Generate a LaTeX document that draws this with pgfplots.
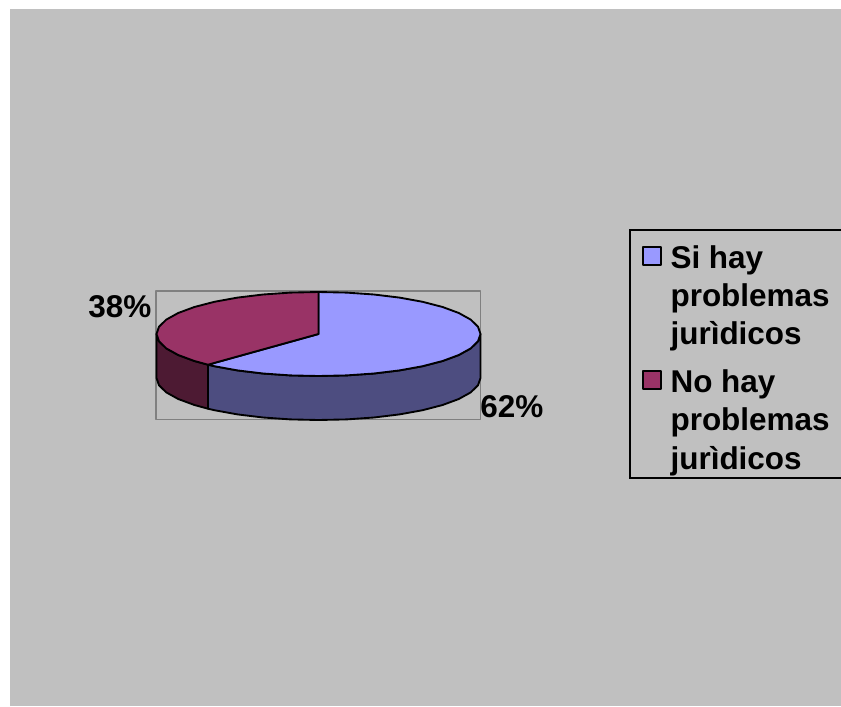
\documentclass[border=0pt]{standalone}
\usepackage{fontspec}
\setmainfont{Liberation Sans}
\usepackage{pgfplots}
\pgfplotsset{compat=1.18}
% chart colours
\definecolor{bg}{HTML}{C0C0C0}
\definecolor{frameg}{HTML}{808080}
\definecolor{sliceA}{HTML}{9999FF}
\definecolor{sliceB}{HTML}{993366}
\definecolor{sideA}{HTML}{4D4D80}
\definecolor{sideB}{HTML}{4D1A33}
\newcommand{\entry}[1]{\parbox[t]{125pt}{\raggedright #1}}
\begin{document}
\begin{tikzpicture}
\clip (0,0) rectangle (630.75pt,529.5pt);
\begin{axis}[
    scale only axis,
    width=630.75pt,
    height=529.5pt,
    xmin=0, xmax=841,
    ymin=0, ymax=706,
    y dir=reverse,
    hide axis,
    clip=false,
    legend style={
        at={(axis cs:629,229)},
        anchor=north west,
        draw=black,
        fill=none,
        line width=1.4pt,
        inner xsep=9pt,
        inner ysep=9.75pt,
        row sep=19.75pt,
        font=\fontsize{23.6}{28.7}\selectfont\bfseries,
        cells={anchor=base west, inner sep=0pt},
    },
    legend cell align=left,
    % the empty path makes the row as deep as the three text lines
    legend image code/.code={
        \draw[#1, draw=black, line width=1.4pt]
            (0pt,-5.25pt) rectangle (13.5pt,8.25pt);
        \path[draw=none, fill=none] (0pt,0pt) -- (18.75pt,-62pt);
    },
    every axis plot/.append style={line width=1.4pt, line join=round},
]
% page and chart background
\addplot[fill=white, draw=none, forget plot] coordinates {(0,0) (841,0) (841,706) (0,706)} --cycle;
\addplot[fill=bg, draw=none, forget plot] coordinates {(10,9) (841,9) (841,706) (10,706)} --cycle;
% plot area frame
\addplot[draw=frameg, forget plot] coordinates {(156,291) (480.5,291) (480.5,419.5) (156,419.5)} --cycle;
% side walls
\addplot[fill=sideB, draw=black, forget plot] coordinates {
 (156.5,334) (159.0,341.3) (166.3,348.4) (178.2,355.0) (194.4,361.0) (208,364.7)
 (208,408.7) (194.4,405.0) (178.2,399.0) (166.3,392.4) (159.0,385.3) (156.5,378)} --cycle;
\addplot[fill=sideA, draw=black, forget plot] coordinates {
 (208,364.7) (214.4,366.2) (237.5,370.4) (263.1,373.5) (290.4,375.4) (318.5,376)
 (346.6,375.4) (373.9,373.5) (399.5,370.4) (422.6,366.2) (442.6,361.0) (458.8,355.0)
 (470.7,348.4) (478.0,341.3) (480.5,334)
 (480.5,378) (478.0,385.3) (470.7,392.4) (458.8,399.0) (442.6,405.0) (422.6,410.2)
 (399.5,414.4) (373.9,417.5) (346.6,419.4) (318.5,420) (290.4,419.4) (263.1,417.5)
 (237.5,414.4) (214.4,410.2) (208,408.7)} --cycle;
% top: 62 %
\addplot[fill=sliceA, draw=black] coordinates {
 (318.5,334) (318.5,292) (346.6,292.6) (373.9,294.5) (399.5,297.6) (422.6,301.8)
 (442.6,307.0) (458.8,313.0) (470.7,319.6) (478.0,326.7) (480.5,334) (478.0,341.3)
 (470.7,348.4) (458.8,355.0) (442.6,361.0) (422.6,366.2) (399.5,370.4) (373.9,373.5)
 (346.6,375.4) (318.5,376) (290.4,375.4) (263.1,373.5) (237.5,370.4) (214.4,366.2)
 (208,364.7)} --cycle;
\addlegendentry{\entry{Si hay\\problemas\\jurìdicos}}
% top: 38 %
\addplot[fill=sliceB, draw=black] coordinates {
 (318.5,334) (208,364.7) (194.4,361.0) (178.2,355.0) (166.3,348.4) (159.0,341.3)
 (156.5,334) (159.0,326.7) (166.3,319.6) (178.2,313.0) (194.4,307.0) (214.4,301.8)
 (237.5,297.6) (263.1,294.5) (290.4,292.6) (318.5,292)} --cycle;
\addlegendentry{\entry{No hay\\problemas\\jurìdicos}}
\node[anchor=base west, inner sep=0pt, font=\fontsize{23.6}{28.7}\selectfont\bfseries] at (axis cs:88,317) {38\%};
\node[anchor=base west, inner sep=0pt, font=\fontsize{23.6}{28.7}\selectfont\bfseries] at (axis cs:480,417) {62\%};
\end{axis}
\end{tikzpicture}
\end{document}
